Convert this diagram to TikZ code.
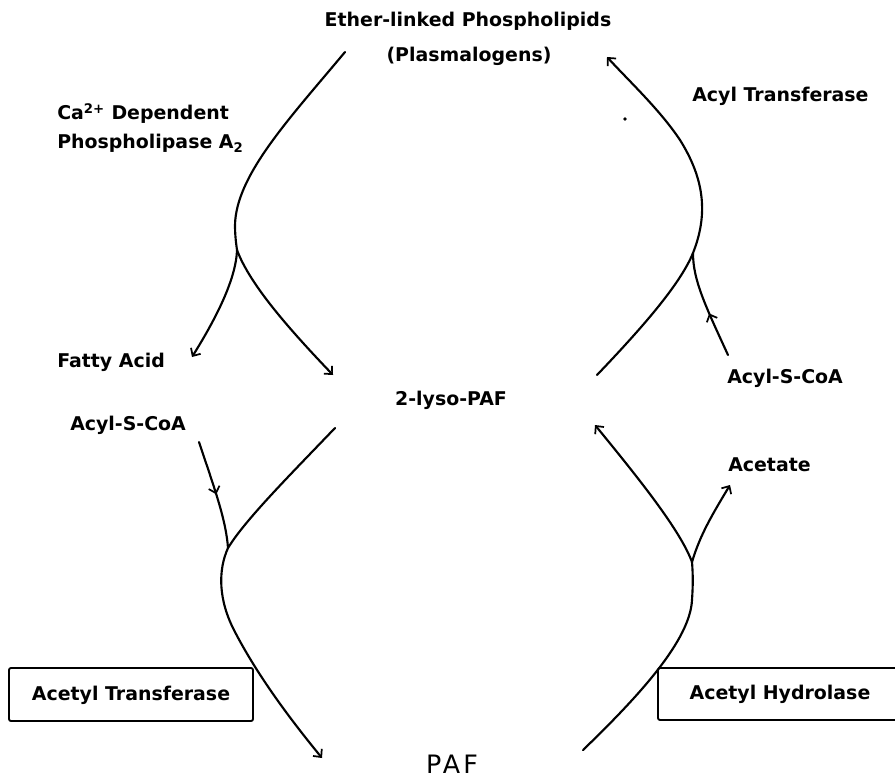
\documentclass[tikz,border=0pt]{standalone}
\usepackage{fontspec}
\setmainfont{DejaVu Sans}
\usetikzlibrary{arrows.meta,decorations.markings}
\begin{document}
\begin{tikzpicture}[x=0.75pt,y=-0.75pt,
  lbl/.style={inner sep=0pt,anchor=base west,font=\bfseries\fontsize{14.2}{16}\selectfont},
  clbl/.style={lbl,anchor=base},
  flow/.style={line width=1.6pt,line cap=round},
  tip/.style={-{Straight Barb[length=4.5pt,width=8.5pt,line width=1.3pt]}},
  midtip/.style={postaction={decorate},decoration={markings,mark=at position #1 with {\arrow{Straight Barb[length=4.5pt,width=8.5pt,line width=1.3pt]}}}},
  enzbox/.style={draw,line width=1.4pt,rounded corners=1.5pt},
]
\useasboundingbox (0,0) rectangle (895,781);

% labels
\node[clbl] (ether) at (468,27) {Ether-linked Phospholipids};
\node[clbl] (plasm) at (469,62) {(Plasmalogens)};
\node[lbl] (ca) at (57,120) {Ca\textsuperscript{2+} Dependent};
\node[lbl] (pla) at (57,149) {Phospholipase A\textsubscript{2}};
\node[lbl] (acyltr) at (692,102) {Acyl Transferase};
\node[lbl] (fatty) at (57,367) {Fatty Acid};
\node[clbl] (lyso) at (451,405) {2-lyso-PAF};
\node[lbl] (acylR) at (727,383) {Acyl-S-CoA};
\node[lbl] (acylL) at (70,430) {Acyl-S-CoA};
\node[lbl] (acetate) at (728,471) {Acetate};
\node[clbl] (acettr) at (131,700) {Acetyl Transferase};
\node[clbl] (acethy) at (780,699) {Acetyl Hydrolase};
\node[inner sep=0pt,anchor=base,font=\fontsize{19}{22}\selectfont\addfontfeature{LetterSpace=12}] (paf) at (452,773) {PAF};

% boxes
\draw[enzbox] (9,668) rectangle (253,721);
\draw[enzbox] (897,668) -| (658,720) -- (897,720);

% stray dot
\fill (625,119) circle (1.8);

% key points
\coordinate (a1) at (345,52);
\coordinate (ab) at (237,250);
\coordinate (afa) at (192,357);
\coordinate (aly) at (333,375);

\coordinate (b1) at (597,375);
\coordinate (bb) at (693,253);
\coordinate (bm) at (680,140);
\coordinate (bend) at (607,57);
\coordinate (bacyl) at (728,355);

\coordinate (c1) at (335,428);
\coordinate (cb) at (228,548);
\coordinate (cm) at (235,632);
\coordinate (cend) at (322,758);
\coordinate (cacyl) at (199,442);

\coordinate (d1) at (583,750);
\coordinate (dm) at (692,600);
\coordinate (db) at (692,562);
\coordinate (dend) at (595,425);
\coordinate (dac) at (730,485);

% upper left: phospholipase
\draw[flow] (a1) .. controls (290,118) and (236,175) .. (235,225) .. controls (235,235) and (236,243) .. (ab);
\draw[flow,tip] (ab) .. controls (236,280) and (215,320) .. (afa);
\draw[flow,tip] (ab) .. controls (250,285) and (290,330) .. (aly);

% upper right: acyl transferase
\draw[flow,tip] (b1) .. controls (640,330) and (680,285) .. (bb) .. controls (708,215) and (705,180) .. (bm) .. controls (660,110) and (630,82) .. (bend);
\draw[flow,midtip=0.42] (bacyl) .. controls (705,305) and (693,280) .. (bb);

% lower left: acetyl transferase
\draw[flow,tip] (c1) .. controls (290,475) and (245,520) .. (cb) .. controls (218,570) and (218,600) .. (cm) .. controls (260,680) and (295,725) .. (cend);
\draw[flow,midtip=0.5] (cacyl) .. controls (215,490) and (226,520) .. (cb);

% lower right: acetyl hydrolase
\draw[flow] (d1) .. controls (640,695) and (690,640) .. (dm) .. controls (693,585) and (693,575) .. (db);
\draw[flow,tip] (db) .. controls (680,530) and (640,480) .. (dend);
\draw[flow,tip] (db) .. controls (700,535) and (712,515) .. (dac);
\end{tikzpicture}
\end{document}
